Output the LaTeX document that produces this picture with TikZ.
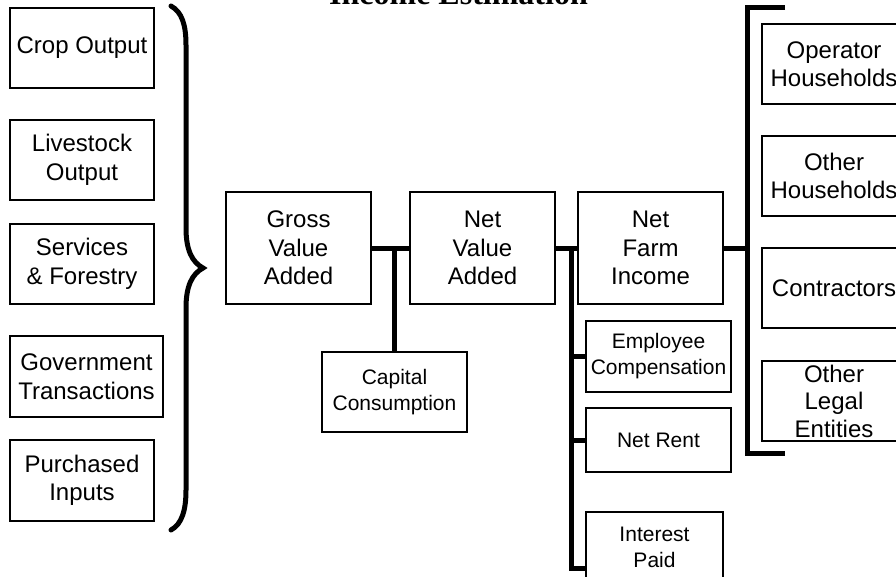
\documentclass[tikz,border=0pt]{standalone}
\usepackage{fontspec}
\setmainfont{Liberation Sans}
\newfontfamily\titlefont{Liberation Serif}
\begin{document}
\begin{tikzpicture}[x=1pt,y=-1pt,
  box/.style={draw, line width=1.3pt, anchor=north west, inner sep=0pt, outer sep=0pt,
    align=center, font=\fontsize{24}{28.5}\selectfont},
  smallbox/.style={box, font=\fontsize{21}{26}\selectfont},
  conn/.style={line width=5pt},
  bracestyle/.style={line width=5pt, line cap=round}]
\useasboundingbox (0,0) rectangle (896,576);
% title (cut at top)
\node[anchor=base, inner sep=0pt, font=\titlefont\bfseries\fontsize{32}{36}\selectfont] (title) at (458.5,4) {Income Estimation};
% left column
\node[box, minimum width=144pt, minimum height=80pt] (crop) at (10,8) {Crop Output};
\node[box, minimum width=144pt, minimum height=80pt] (live) at (10,120) {Livestock\\Output};
\node[box, minimum width=144pt, minimum height=80pt] (serv) at (10,224) {Services\\\& Forestry};
\node[box, minimum width=153pt, minimum height=81pt] (gov) at (10,336) {Government\\Transactions};
\node[box, minimum width=144pt, minimum height=81pt] (purch) at (10,440) {Purchased\\Inputs};
% brace
\draw[bracestyle] (171,6) .. controls (182,12) and (186,25) .. (186,45) -- (186,228)
  .. controls (186,250) and (192,262) .. (203,268)
  .. controls (192,274) and (186,286) .. (186,308) -- (186,490)
  .. controls (186,510) and (182,524) .. (171,530);
% middle chain
\node[box, minimum width=145pt, minimum height=112pt] (gva) at (226,192) {Gross\\Value\\Added};
\node[box, minimum width=145pt, minimum height=112pt] (nva) at (410,192) {Net\\Value\\Added};
\node[box, minimum width=145pt, minimum height=112pt] (nfi) at (578,192) {Net\\Farm\\Income};
\node[smallbox, minimum width=145pt, minimum height=80pt] (cap) at (322,352) {Capital\\Consumption};
\node[smallbox, minimum width=145pt, minimum height=71pt] (emp) at (586,321) {Employee\\Compensation};
\node[smallbox, minimum width=145pt, minimum height=64pt] (rent) at (586,408) {Net Rent};
\node[smallbox, minimum width=137pt, minimum height=70pt] (int) at (586,512) {Interest\\Paid};
% right column
\node[box, minimum width=144pt, minimum height=80pt] (op) at (762,24) {Operator\\Households};
\node[box, minimum width=144pt, minimum height=80pt] (oh) at (762,136) {Other\\Households};
\node[box, minimum width=144pt, minimum height=80pt] (con) at (762,248) {Contractors};
\node[box, minimum width=144pt, minimum height=80pt, font=\fontsize{24}{27.5}\selectfont] (ole) at (762,361) {Other\\Legal\\Entities};
% connectors
\coordinate (j1) at (cap.north |- gva.east);
\draw[conn] (gva.east) -- (nva.west);
\draw[conn] (j1) -- (cap.north);
\draw[conn] (nva.east) -- (nfi.west);
\coordinate (j2) at (571,248);
\coordinate (j3) at (571,568);
\draw[conn, line join=miter] (j2) -- (j3) -- (j3 -| int.west);
\draw[conn] (emp.west) -- (emp.west -| j2);
\draw[conn] (rent.west) -- (rent.west -| j2);
\coordinate (bt) at (747,7);
\coordinate (bb) at (747,453);
\draw[conn] (nfi.east) -- (nfi.east -| bt);
\draw[line width=5pt, line join=miter] (785,7) -- (bt) -- (bb) -- (785,453);
\end{tikzpicture}
\end{document}
